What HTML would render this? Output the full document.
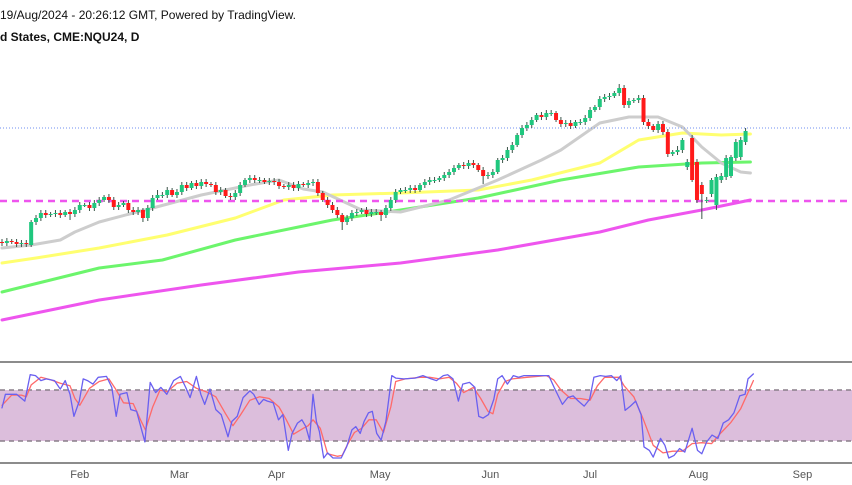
<!DOCTYPE html>
<html><head><meta charset="utf-8">
<style>
html,body{margin:0;padding:0;background:#fff;}
#wrap{position:relative;width:852px;height:485px;overflow:hidden;font-family:"Liberation Sans",Arial,sans-serif;}
.hdr{position:absolute;left:0;font-size:12px;color:#111;white-space:nowrap;}
</style></head>
<body>
<div id="wrap">
<svg id="chart" width="852" height="485"></svg>
<div class="hdr" style="top:8px">19/Aug/2024 - 20:26:12 GMT, Powered by TradingView.</div>
<div class="hdr" style="top:30px;font-weight:bold">d States, CME:NQU24, D</div>
</div>
<script>
const opens=[18830,18820,18840,18830,18810,18820,18800,19030,19070,19120,19100,19110,19120,19100,19130,19110,19150,19200,19200,19170,19220,19250,19280,19250,19180,19200,19220,19150,19130,19150,19070,19170,19270,19300,19300,19350,19300,19330,19400,19370,19420,19390,19430,19410,19400,19330,19350,19290,19280,19320,19400,19450,19470,19450,19450,19430,19440,19430,19390,19380,19400,19370,19410,19400,19420,19430,19320,19250,19200,19150,19100,19030,19070,19120,19130,19150,19110,19130,19130,19100,19170,19250,19330,19350,19350,19370,19350,19400,19430,19450,19450,19470,19500,19530,19570,19600,19590,19620,19600,19550,19490,19500,19530,19650,19670,19750,19800,19900,19970,20000,20050,20100,20080,20120,20120,20050,20010,20020,19990,20030,20030,20070,20150,20180,20260,20280,20290,20320,20370,20200,20240,20250,20270,20030,19990,19950,20010,19930,19710,19730,19750,19580,19870,19630,19400,19250,19310,19200,19450,19480,19490,19670,19680,19830,19860];
const closes=[18820,18840,18830,18810,18820,18810,19030,19070,19120,19100,19110,19120,19100,19130,19110,19150,19200,19200,19170,19220,19250,19280,19250,19180,19200,19220,19150,19130,19150,19070,19170,19270,19300,19300,19350,19300,19330,19400,19370,19420,19390,19430,19410,19400,19330,19350,19290,19280,19320,19400,19450,19470,19450,19450,19430,19440,19430,19390,19380,19400,19370,19410,19400,19420,19430,19320,19250,19200,19150,19100,19030,19070,19120,19130,19150,19110,19130,19130,19100,19170,19250,19330,19350,19350,19370,19350,19400,19430,19450,19450,19470,19500,19530,19570,19600,19590,19620,19600,19550,19490,19500,19530,19650,19670,19750,19800,19900,19970,20000,20050,20100,20080,20120,20120,20050,20010,20020,19990,20030,20030,20070,20150,20180,20260,20280,20290,20320,20370,20200,20240,20250,20270,20030,19990,19950,20010,19930,19710,19730,19750,19850,19630,19450,19250,19310,19250,19450,19480,19490,19670,19680,19830,19850,19940];
const wickUp=[30,30,20,30,30,30,20,30,30,30,20,30,30,20,30,30,30,20,30,30,30,20,30,30,30,20,30,30,30,20,30,30,50,30,30,20,30,30,30,20,30,30,30,20,30,30,20,30,30,30,20,30,30,30,20,30,30,30,20,30,30,30,20,30,30,30,20,30,30,30,20,30,30,30,20,30,30,30,20,30,30,30,20,30,30,30,20,30,30,30,20,30,30,30,20,30,30,30,20,30,30,30,20,30,30,30,20,30,30,30,20,30,30,30,20,30,30,30,20,30,30,30,20,30,30,30,20,40,30,30,20,30,30,30,20,30,30,30,20,40,20,30,30,30,30,30,20,30,30,30,20,30,30,30,20];
const wickDn=[30,30,20,30,30,30,20,30,30,30,20,30,30,20,60,30,30,20,30,30,30,20,30,30,30,20,30,30,30,40,30,30,20,30,30,20,30,30,30,20,30,30,30,20,30,30,20,30,30,30,20,30,30,30,20,30,30,30,20,30,30,30,20,30,30,30,20,30,30,30,80,30,30,30,20,30,30,30,60,30,30,30,20,30,30,30,20,30,30,30,20,30,30,30,20,30,30,30,20,80,30,30,20,30,30,30,20,30,30,30,20,30,30,30,20,30,30,30,20,30,30,30,20,30,30,30,20,30,30,30,20,30,30,30,20,30,30,30,20,30,30,30,20,30,250,30,30,50,30,30,20,30,30,30,20,30,30];
const grayDays=[0,6,12,15,20,27,31,41,51,57,62,66,74,82,92,102,111,115,123,129,135,140,144,148,152,154];
const grayVals=[18770,18800,18850,18930,19030,19120,19170,19300,19400,19450,19360,19330,19150,19130,19250,19450,19650,19750,20020,20080,20080,19980,19780,19620,19530,19520];
const yellowDays=[0,7,20,34,48,58,68,82,98,109,123,131,140,148,154];
const yellowVals=[18620,18670,18770,18900,19070,19250,19300,19320,19350,19450,19620,19850,19920,19900,19910];
const greenDays=[0,20,33,48,61,68,82,98,115,131,144,154];
const greenVals=[18330,18570,18650,18850,18980,19050,19150,19270,19450,19580,19620,19630];
const magDays=[0,20,41,61,82,102,123,133,144,154];
const magVals=[18050,18250,18400,18530,18620,18750,18930,19050,19150,19250];
const supportLevel=19240;
const lastPrice=19970;
const kDays=[0,0.7,3,4.7,5.8,6.9,8,9.1,10.8,12,13,14,14.8,15.9,16.7,17.6,18.7,19.8,21.5,22.6,23.5,24.3,25.7,26.5,27.7,29.4,30.5,31.6,32.7,33.9,35.3,36.7,37.8,38.7,40,40.9,41.7,42.8,44,45.1,46.5,47.3,48.4,49.6,51,51.8,52.9,53.8,54.6,55.8,56.9,57.8,58.9,59.7,60.8,61.7,62.5,63.3,64,64.7,65.3,66.2,67,68.1,69.8,70.9,72,72.8,73.7,74.5,75.4,76.2,77.1,78,79,80.2,81,82.7,85,86.6,88.3,89.4,90.8,91.7,92.8,93.9,94.8,96.2,97.3,98.1,99,100.1,101.2,102,102.9,104,105.2,106.3,107.4,109.1,110.8,112.5,113.6,115.3,116.4,117.5,118.6,119.8,120.9,121.8,123.1,124.2,125.4,126.5,127.3,128.2,129.3,130.4,131.5,132.1,133.2,134,134.7,135.5,136.4,137.2,138.3,139.4,140.5,142,143.1,144,145,146.1,147.3,148.4,149.5,150.6,151.8,152.9,153.5,154.6];
const kVals=[59,75,75,67,98,97,91,93,91,81,91,75,49,67,93,91,87,95,96,83,49,75,77,57,55,19,89,77,83,75,91,96,83,71,96,75,63,81,57,51,25,43,49,71,79,75,63,69,67,65,45,51,9,29,41,45,37,21,75,43,31,0,6,0,0,13,33,37,29,43,53,55,29,21,43,97,94,93,94,97,93,91,97,98,93,67,87,89,83,49,47,51,69,93,97,87,97,95,97,97,97,97,83,63,71,73,67,61,69,95,97,96,97,91,97,56,61,67,51,13,9,1,11,23,15,0,3,11,7,35,9,5,19,27,23,41,45,53,73,75,93,99];
const dDays=[0,2,4,5,6,8,10,12,14,15,16,18,20,22,23.5,25,27,28.5,29.5,31,32.5,34,36,38,40,42,44,46,47.5,49,51,53,55,57,58.5,60,62,63,64,65.5,67,69,70,71,72.5,74,75.5,77,78.5,80,81,83,86,88,90,92,93.5,95,97,98.5,100,101,102,103.5,105,108,112,113.5,115,117,119,121,122.5,124,127,128,130,132,134,136,138,140,142,144,146,148,150,152,154.6];
const dVals=[62,74,74,72,86,95,92,88,85,70,62,82,90,93,80,65,64,45,33,60,80,78,88,90,82,78,72,52,38,50,68,72,70,60,45,28,35,38,45,35,5,2,3,15,30,35,45,45,30,60,90,93,95,95,93,95,88,77,83,70,55,52,75,90,93,95,97,92,80,70,70,68,85,95,95,85,72,45,15,6,8,8,17,18,17,30,42,58,91];
const monthLabels=["Feb","Mar","Apr","May","Jun","Jul","Aug","Sep"];
const monthDays=[16,36.5,56.5,77.8,100.5,121,143.3,164.7];

const NS="http://www.w3.org/2000/svg";
const svg=document.getElementById('chart');
const X0=2,DX=4.86;
function xOf(d){return X0+DX*d;}
function yOf(p){return (21250-p)/10;}
const SY0=458,SK=0.85;
function syOf(v){return SY0-v*SK;}
function mk(tag,attrs){const e=document.createElementNS(NS,tag);for(const k in attrs)e.setAttribute(k,attrs[k]);svg.appendChild(e);return e;}

// stoch panel background
let e=mk('rect',{x:0,y:syOf(80),width:852,height:syOf(20)-syOf(80),fill:'#dcbedc'});


e=mk('line',{x1:0,x2:852,y1:syOf(80),y2:syOf(80),stroke:'#8a7f8a','stroke-width':1.5,'stroke-dasharray':'5,4'});


e=mk('line',{x1:0,x2:852,y1:syOf(20),y2:syOf(20),stroke:'#8a7f8a','stroke-width':1.5,'stroke-dasharray':'5,4'});


e=mk('line',{x1:0,x2:852,y1:362,y2:362,stroke:'#666','stroke-width':1.5});


e=mk('line',{x1:0,x2:852,y1:463,y2:463,stroke:'#666','stroke-width':1.5});



function poly(days,vals,fy,color,w,name){
  const pts=days.map((d,i)=>xOf(d).toFixed(1)+','+fy(vals[i]).toFixed(1)).join(' ');
  const p=mk('polyline',{points:pts,fill:'none',stroke:color,'stroke-width':w,'stroke-linejoin':'round','stroke-linecap':'round'});
  
  
}
poly(magDays,magVals,yOf,'#ee55ee',3,'ma-200-line');
poly(greenDays,greenVals,yOf,'#6cf56c',3,'ma-100-line');
poly(yellowDays,yellowVals,yOf,'#ffff70',3,'ma-50-line');
poly(grayDays,grayVals,yOf,'#cdcdcd',3,'ma-20-line');

e=mk('line',{x1:0,x2:852,y1:yOf(supportLevel),y2:yOf(supportLevel),stroke:'#ee55ee','stroke-width':2.5,'stroke-dasharray':'7,5'});


e=mk('line',{x1:0,x2:852,y1:yOf(lastPrice),y2:yOf(lastPrice),stroke:'#6f8ff0','stroke-width':1,'stroke-dasharray':'1,2'});



for(let i=0;i<closes.length;i++){
  const o=opens[i],c=closes[i],up=c>=o;
  const hi=Math.max(o,c)+wickUp[i],lo=Math.min(o,c)-wickDn[i];
  const x=xOf(i);
  const w=mk('line',{x1:x,x2:x,y1:yOf(hi),y2:yOf(lo),stroke:'#3b5448','stroke-width':1});
  
  
  const top=yOf(Math.max(o,c)),bot=yOf(Math.min(o,c));
  const r=mk('rect',{x:x-2,y:top,width:4,height:Math.max(1,bot-top),fill:up?'#1fc77e':'#ff1a1a'});
  
  
}

poly(dDays,dVals,syOf,'#ff6a6a',1.3,'stoch-d-line');
poly(kDays,kVals,syOf,'#6a60f0',1.3,'stoch-k-line');

monthLabels.forEach((m,i)=>{
  const t=mk('text',{x:xOf(monthDays[i]),y:478,'text-anchor':'middle','font-size':11,fill:'#555','font-family':'Liberation Sans, sans-serif'});
  t.textContent=m;
  
  
});
</script>
</body></html>
